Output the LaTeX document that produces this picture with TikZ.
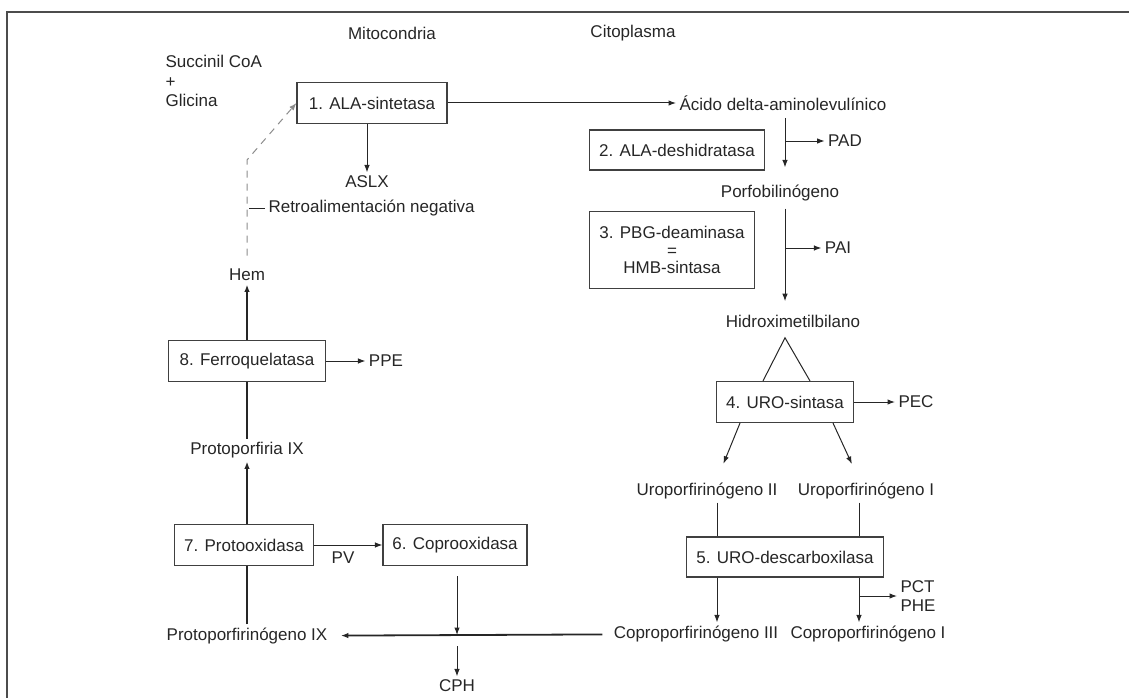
\documentclass[tikz,border=0pt]{standalone}
\usepackage{fontspec}
\setmainfont{Liberation Sans}
\usetikzlibrary{arrows.meta,calc}

\begin{document}
\begin{tikzpicture}[
  x=1pt, y=-1pt,
  every node/.style={font=\fontsize{17}{19.5}\selectfont, text=black!85},
  enzyme/.style={draw=black!75, line width=1.1pt, inner sep=0pt, minimum height=41pt},
  flow/.style={draw=black!85, line width=1pt, -{Latex[length=7.5pt,width=5.5pt]}},
  link/.style={draw=black!85, line width=1pt},
  strong/.style={line width=1.8pt}
]
\useasboundingbox (0,0) rectangle (1129,698);
\draw[black!70, line width=2pt] (7,698) -- (7,12) -- (1129,12);

\node (mito) at (392,33) {Mitocondria};
\node (cito) at (633,33) {Citoplasma};
\node[align=left, anchor=north west] (sustrato) at (162,52) {Succinil CoA\\+\\Glicina};

\node[enzyme, minimum width=150pt] (ala) at (372,103) {1. ALA-sintetasa};
\node (acido) at (783,103) {Ácido delta-aminolevulínico};
\node (aslx) at (367,182) {ASLX};
\node[anchor=west] (retro) at (265,208) {Retroalimentación negativa};
\node (hem) at (247,275) {Hem};
\coordinate (bend) at (247,160);
\coordinate (tick) at (249,208);
\node[enzyme, minimum width=157pt] (ferro) at (247,361) {8. Ferroquelatasa};
\node (ppe) at (386,361) {PPE};
\node (protoix) at (247,450) {Protoporfiria IX};
\node[enzyme, minimum width=139pt] (protoox) at (244,545) {7. Protooxidasa};
\node[enzyme, minimum width=144pt] (coproox) at (455,545) {6. Coprooxidasa};
\node (pv) at (343,558) {PV};
\node (protogen) at (247,636) {Protoporfirinógeno IX};
\coordinate (cruce) at (457,636);
\node (cph) at (457,686) {CPH};

\coordinate (colR) at (785,0);
\coordinate (colA) at (717,0);
\coordinate (colB) at (859,0);
\node[enzyme, minimum width=175pt, minimum height=40pt] (deshid) at (677,150) {2. ALA-deshidratasa};
\node (pad) at (845,141) {PAD};
\node (pbg) at (780,193) {Porfobilinógeno};
\node[enzyme, minimum width=165pt, minimum height=77pt, align=center,
  font=\fontsize{17}{17.5}\selectfont] (deamin) at (672,250) {3. PBG-deaminasa\\=\\HMB-sintasa};
\node (pai) at (838,248) {PAI};
\node (hmb) at (793,321) {Hidroximetilbilano};
\coordinate (apex) at ($(hmb.south -| colR)+(0,7)$);
\node[enzyme, minimum width=137pt] (urosin) at (785,402) {4. URO-sintasa};
\node (pec) at (916,402) {PEC};
\node (uroii) at (707,491) {Uroporfirinógeno II};
\node (uroi) at (866,491) {Uroporfirinógeno I};
\node[enzyme, minimum width=197pt, minimum height=40pt] (descarb) at (785,557) {5. URO-descarboxilasa};
\node[align=left] (pct) at (918,596) {PCT\\PHE};
\node (coproiii) at (696,634) {Coproporfirinógeno III};
\node (coproi) at (868,634) {Coproporfirinógeno I};

\draw[flow] (ala.east) -- (acido.west);
\draw[flow] (ala.south -| aslx) -- (aslx);
\draw[flow, draw=black!45, dash pattern=on 7pt off 6pt, shorten <=10pt] (hem) -- (bend) -- (ala.west);
\draw[link] (tick) -- (retro.west);
\draw[flow, strong] (ferro) -- (hem);
\draw[link, strong] (protoix) -- (ferro);
\draw[flow] (ferro) -- (ppe);
\draw[flow, strong] (protoox.north -| protoix) -- (protoix);
\draw[link, strong] (protogen) -- (protogen |- protoox.south);
\draw[flow] (protoox) -- (coproox);
\draw[flow, shorten <=10pt, shorten >=1pt] (coproox.south -| cruce) -- (cruce);
\draw[flow, shorten <=10pt] (cruce) -- (cph);
\draw[flow, strong, shorten <=8pt, shorten >=10pt] (coproiii) -- (protogen);

\draw[flow, shorten <=4pt, shorten >=14pt] (acido.south -| colR) -- (pbg.north -| colR);
\draw[flow] (pad.west -| colR) -- (pad.west);
\draw[flow, shorten <=4pt, shorten >=10pt] (pbg.south -| colR) -- (hmb.north -| colR);
\draw[flow] (pai.west -| colR) -- (pai.west);
\draw[link] ($(urosin.north)+(-22,0)$) -- (apex) -- ($(urosin.north)+(25,0)$);
\draw[flow] (urosin) -- (pec);
\draw[flow, shorten >=17pt] ($(urosin.south)+(-45,0)$) -- (uroii.north -| colA);
\draw[flow, shorten >=17pt] ($(urosin.south)+(48,0)$) -- (uroi.north -| colB);
\draw[link] (uroii.south -| colA) -- (descarb.north -| colA);
\draw[link] (uroi.south -| colB) -- (descarb.north -| colB);
\draw[flow] (descarb.south -| colA) -- (coproiii.north -| colA);
\draw[flow] (descarb.south -| colB) -- (coproi.north -| colB);
\draw[flow] (pct.west -| colB) -- (pct.west);
\end{tikzpicture}
\end{document}
